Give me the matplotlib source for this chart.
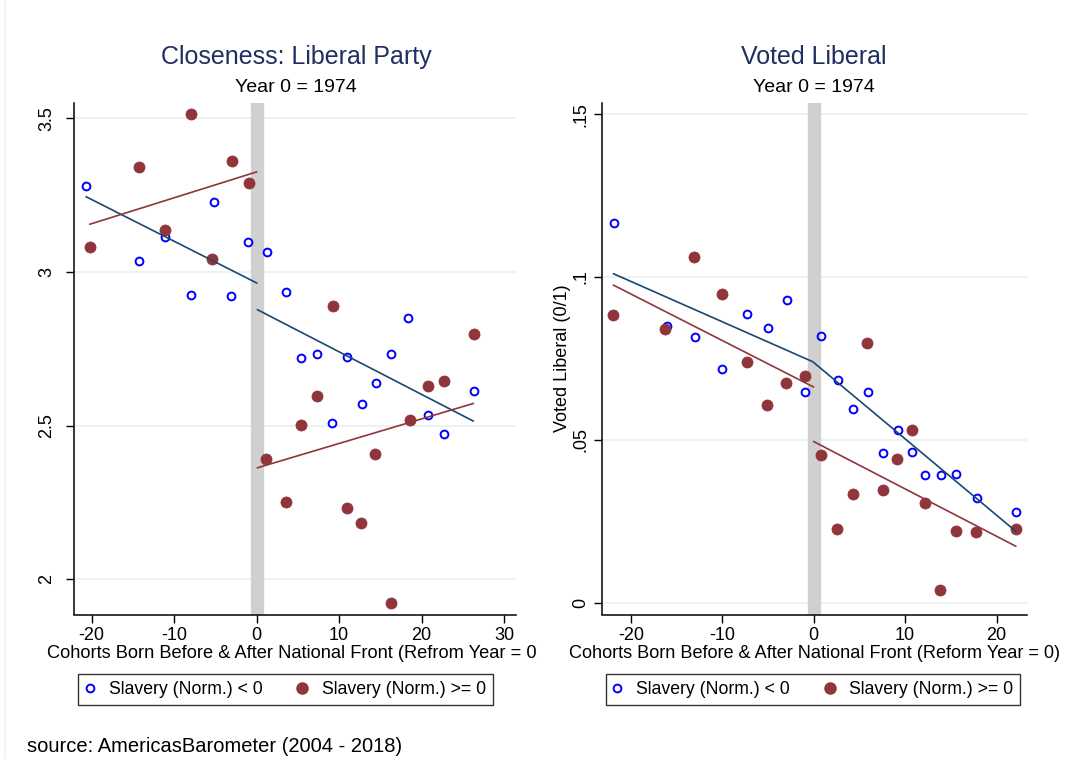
import matplotlib
matplotlib.use("Agg")
import matplotlib.pyplot as plt
from matplotlib.lines import Line2D
from matplotlib.transforms import Bbox, TransformedBbox

plt.rcParams["font.family"] = ["Liberation Sans", "DejaVu Sans"]
plt.rcParams["axes.unicode_minus"] = False

# ---- Closeness: Liberal Party ----
close_neg_x = [-20.7, -14.3, -11.1, -7.9, -5.2, -3.1, -1.1, 1.25, 3.5, 5.4,
               7.3, 9.1, 11.0, 12.8, 14.5, 16.3, 18.3, 20.8, 22.7, 26.3]
close_neg_y = [3.280, 3.034, 3.114, 2.924, 3.227, 2.921, 3.097, 3.064, 2.933, 2.721,
               2.734, 2.510, 2.723, 2.569, 2.639, 2.734, 2.849, 2.534, 2.474, 2.612]
close_pos_x = [-20.2, -14.3, -11.1, -7.9, -5.4, -3.0, -0.9, 1.1, 3.5, 5.4,
               7.3, 9.25, 11.0, 12.6, 14.4, 16.3, 18.6, 20.8, 22.7, 26.3]
close_pos_y = [3.082, 3.342, 3.136, 3.514, 3.042, 3.360, 3.289, 2.391, 2.252, 2.502,
               2.598, 2.888, 2.231, 2.183, 2.409, 1.923, 2.518, 2.629, 2.644, 2.798]
close_fit_neg_pre_x = [-20.65, 0.0]
close_fit_neg_pre_y = [3.244, 2.964]
close_fit_neg_post_x = [0.1, 26.25]
close_fit_neg_post_y = [2.877, 2.515]
close_fit_pos_pre_x = [-20.2, 0.0]
close_fit_pos_pre_y = [3.155, 3.325]
close_fit_pos_post_x = [0.1, 26.25]
close_fit_pos_post_y = [2.363, 2.572]
close_xticks = [-20, -10, 0, 10, 20, 30]
close_yticks = [2, 2.5, 3, 3.5]
close_yticklabels = ["2", "2.5", "3", "3.5"]

# ---- Voted Liberal ----
vote_neg_x = [-21.9, -16.1, -13.0, -10.0, -7.3, -5.0, -2.9, -1.0, 0.77, 2.6,
              4.3, 5.9, 7.6, 9.2, 10.7, 12.2, 13.9, 15.6, 17.9, 22.1]
vote_neg_y = [0.1166, 0.0849, 0.0816, 0.0719, 0.0887, 0.0845, 0.0930, 0.0648, 0.0818, 0.0683,
              0.0594, 0.0647, 0.0459, 0.0530, 0.0462, 0.0392, 0.0394, 0.0397, 0.0322, 0.0279]
vote_pos_x = [-22.0, -16.3, -13.1, -10.0, -7.3, -5.1, -3.0, -1.0, 0.77, 2.55,
              4.3, 5.8, 7.6, 9.1, 10.8, 12.2, 13.8, 15.6, 17.7, 22.1]
vote_pos_y = [0.0885, 0.0841, 0.1060, 0.0948, 0.0740, 0.0607, 0.0674, 0.0695, 0.0453, 0.0228,
              0.0333, 0.0797, 0.0345, 0.0442, 0.0531, 0.0308, 0.0040, 0.0221, 0.0219, 0.0227]
vote_fit_neg_x = [-21.9, -0.1, 22.1]
vote_fit_neg_y = [0.1010, 0.0740, 0.0220]
vote_fit_pos_pre_x = [-21.9, -0.05]
vote_fit_pos_pre_y = [0.0975, 0.0663]
vote_fit_pos_post_x = [0.0, 22.1]
vote_fit_pos_post_y = [0.0495, 0.0174]
vote_xticks = [-20, -10, 0, 10, 20]
vote_yticks = [0, 0.05, 0.1, 0.15]
vote_yticklabels = ["0", ".05", ".1", ".15"]

legend_labels = ["Slavery (Norm.) < 0", "Slavery (Norm.) >= 0"]

BLUE_PT = "#0000ff"
RED = "#90353b"
NAVY = "#1a476f"
TITLE = "#1f3060"
GRID = "#eaf0f2"
BAND = "#d0d0d0"

W, H = 1065, 759
fig = plt.figure(figsize=(W / 100, H / 100), dpi=100)


def fx(px):
    return px / W


def fy(py):
    return 1 - py / H


def make_axes(x0, x1, y0, y1):
    return fig.add_axes([fx(x0), fy(y1), fx(x1) - fx(x0), fy(y0) - fy(y1)])


def style(ax, xticks, yticks, yticklabels, xlim, ylim, ypad):
    ax.set_xlim(*xlim)
    ax.set_ylim(*ylim)
    ax.set_xticks(xticks)
    ax.set_xticklabels([str(t) for t in xticks])
    ax.set_yticks(yticks)
    ax.set_yticklabels(yticklabels, rotation=90, va="center")
    for s in ("top", "right"):
        ax.spines[s].set_visible(False)
    for s in ("left", "bottom"):
        ax.spines[s].set_linewidth(1.1)
    ax.tick_params(direction="out", length=5.5, width=1.0, labelsize=13, pad=3.5)
    ax.tick_params(axis="y", pad=ypad)
    for y in yticks:
        ax.axhline(y, color=GRID, lw=1.3, zorder=0)
    ax.axvline(0, color=BAND, lw=9.6, zorder=1)


def panel(ax, nx, ny, px_, py_):
    ax.plot(nx, ny, linestyle="none", marker="o", ms=5.6, mfc="none",
            mec=BLUE_PT, mew=1.4, zorder=3)
    ax.plot(px_, py_, linestyle="none", marker="o", ms=8.0, mfc=RED,
            mec=RED, mew=0.5, zorder=4)


def legend(cx, cy):
    handles = [
        Line2D([], [], linestyle="none", marker="o", ms=5.6, mfc="none", mec=BLUE_PT, mew=1.4),
        Line2D([], [], linestyle="none", marker="o", ms=8.0, mfc=RED, mec=RED),
    ]
    leg = fig.legend(handles, legend_labels, ncol=2, loc="center",
                     bbox_to_anchor=(fx(cx), fy(cy)), fontsize=12.7, frameon=True,
                     fancybox=False, edgecolor="black", handlelength=0.5,
                     handletextpad=0.85, columnspacing=2.0, borderpad=0.4,
                     borderaxespad=0)
    leg.get_frame().set_linewidth(1.0)
    return leg


# Left panel
axL = make_axes(74.3, 515.7, 102.7, 614.5)
style(axL, close_xticks, close_yticks, close_yticklabels, (-22.1, 31.4), (1.886, 3.55), 8)
panel(axL, close_neg_x, close_neg_y, close_pos_x, close_pos_y)
axL.plot(close_fit_neg_pre_x, close_fit_neg_pre_y, color=NAVY, lw=1.2, zorder=5)
axL.plot(close_fit_neg_post_x, close_fit_neg_post_y, color=NAVY, lw=1.2, zorder=5)
axL.plot(close_fit_pos_pre_x, close_fit_pos_pre_y, color=RED, lw=1.2, zorder=5)
axL.plot(close_fit_pos_post_x, close_fit_pos_post_y, color=RED, lw=1.2, zorder=5)
xlabL = axL.set_xlabel("Cohorts Born Before & After National Front (Refrom Year = 0)",
                       fontsize=13.15, labelpad=1)
xlabL.set_clip_box(TransformedBbox(Bbox([[0, 0], [fx(537), 1]]), fig.transFigure))
xlabL.set_clip_on(True)

# Right panel
axR = make_axes(601.7, 1026.7, 102.7, 614.5)
style(axR, vote_xticks, vote_yticks, vote_yticklabels, (-23.2, 23.3), (-0.00356, 0.1535), 3.5)
panel(axR, vote_neg_x, vote_neg_y, vote_pos_x, vote_pos_y)
axR.plot(vote_fit_neg_x, vote_fit_neg_y, color=NAVY, lw=1.2, zorder=5)
axR.plot(vote_fit_pos_pre_x, vote_fit_pos_pre_y, color=RED, lw=1.2, zorder=5)
axR.plot(vote_fit_pos_post_x, vote_fit_pos_post_y, color=RED, lw=1.2, zorder=5)
axR.set_xlabel("Cohorts Born Before & After National Front (Reform Year = 0)",
               fontsize=13.1, labelpad=1)
axR.set_ylabel("Voted Liberal (0/1)", fontsize=13, labelpad=1)

# Titles
fig.text(fx(296), fy(57), "Closeness: Liberal Party", fontsize=18, color=TITLE,
         ha="center", va="center")
fig.text(fx(296), fy(87), "Year 0 = 1974", fontsize=14, color="black",
         ha="center", va="center")
fig.text(fx(814), fy(57), "Voted Liberal", fontsize=18, color=TITLE,
         ha="center", va="center")
fig.text(fx(814), fy(87), "Year 0 = 1974", fontsize=14, color="black",
         ha="center", va="center")

legend(285.5, 689.5)
legend(813, 689.5)

fig.text(fx(27), fy(746), "source: AmericasBarometer (2004 - 2018)", fontsize=14.5,
         ha="left", va="center")

fig.add_artist(Line2D([fx(5), fx(5)], [0, 1], color="#eef2f4", lw=1.2,
                      transform=fig.transFigure))

fig.savefig("out.png", dpi=100)
